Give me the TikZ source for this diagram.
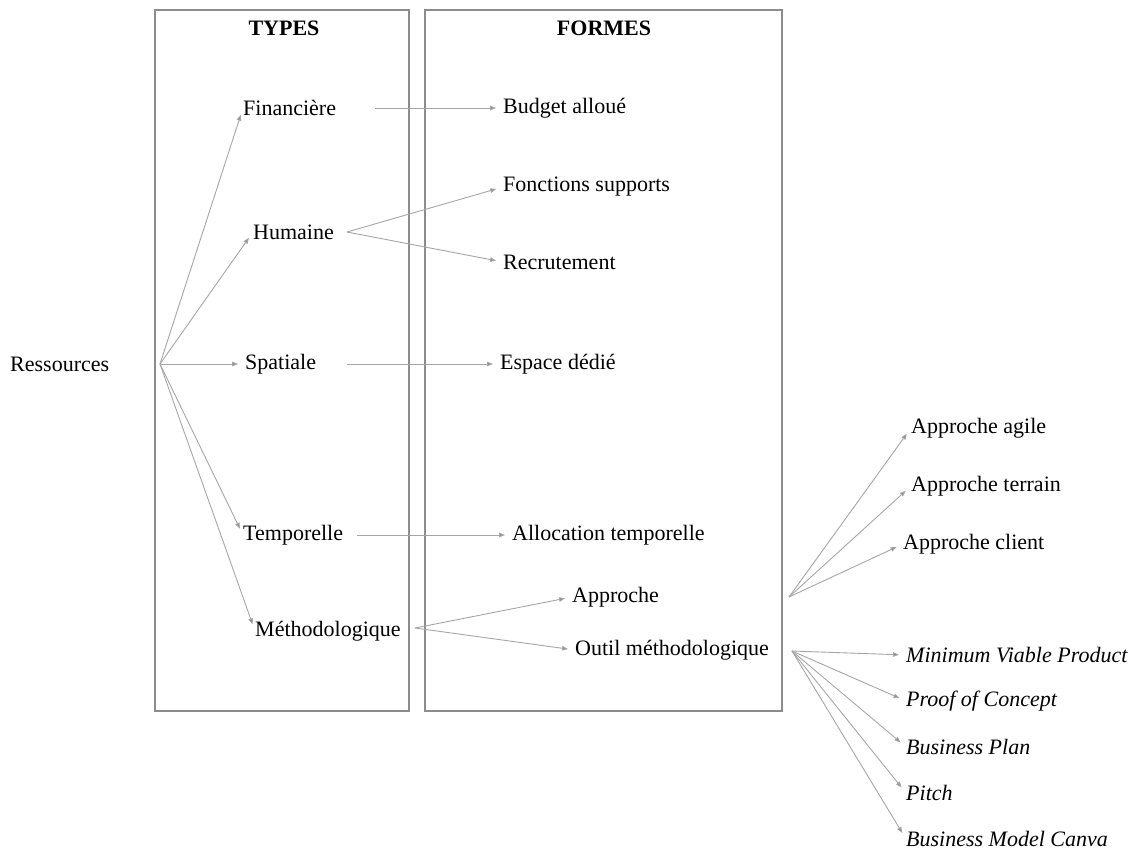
\documentclass[tikz,border=0pt]{standalone}
\usepackage{fontspec}
\setmainfont{Liberation Serif}
\usepackage{xcolor}
\usetikzlibrary{arrows.meta,positioning}

\definecolor{boxgray}{HTML}{8C8C8C}
\definecolor{linkgray}{HTML}{A6A6A6}

\begin{document}
\begin{tikzpicture}[x=1pt,y=-1pt,font=\fontsize{22}{26}\selectfont,
    lbl/.style={anchor=west,inner sep=0pt},
    col/.style={draw=boxgray,line width=1.1pt},
    link/.style={draw=linkgray,line width=0.9pt,shorten >=7pt,
      -{Triangle[length=6pt,width=4.5pt,fill=gray!90]}}]
  \useasboundingbox (0,0) rectangle (1133,852);

  % the two columns
  \draw[col] (155,10) rectangle (409,711);
  \draw[col] (425,10) rectangle (782,711);
  \node[inner sep=0pt] (types) at (284,28) {\textbf{TYPES}};
  \node[inner sep=0pt] (formes) at (604,28) {\textbf{FORMES}};

  \node[lbl] (ress) at (10,364) {Ressources};

  % types
  \node[lbl] (fin) at (243,108) {Financière};
  \node[lbl] (hum) at (253,232) {Humaine};
  \node[lbl] (spa) at (245,364) {Spatiale};
  \node[lbl] (tem) at (243,535) {Temporelle};
  \node[lbl] (met) at (255,631) {Méthodologique};

  % formes
  \node[lbl] (bud) at (503,108) {Budget alloué};
  \node[lbl] (fon) at (503,187) {Fonctions supports};
  \node[lbl] (rec) at (503,262) {Recrutement};
  \node[lbl] (esp) at (500,364) {Espace dédié};
  \node[lbl] (allo) at (512,535) {Allocation temporelle};
  \node[lbl] (app) at (572,597) {Approche};
  \node[lbl] (outil) at (575,650) {Outil méthodologique};

  % approches
  \node[lbl] (agi) at (911,428) {Approche agile};
  \node[lbl] (ter) at (911,486) {Approche terrain};
  \node[lbl] (cli) at (903,544) {Approche client};

  % outils
  \node[lbl] (mvp) at (906,655) {\itshape Minimum Viable Product};
  \node[lbl] (poc) at (906,701) {\itshape Proof of Concept};
  \node[lbl] (bp) at (906,747) {\itshape Business Plan};
  \node[lbl] (pit) at (906,793) {\itshape Pitch};
  \node[lbl] (bmc) at (906,839) {\itshape Business Model Canva};

  % start points of the links
  \coordinate (ress-out) at (160,364);
  \coordinate (fin-out) at (375,108);
  \coordinate (hum-out) at (347,232);
  \coordinate (spa-out) at (347,364);
  \coordinate (tem-out) at (357,535);
  \coordinate (met-out) at (415,628);
  \coordinate (app-out) at (789,597);
  \coordinate (outil-out) at (792,651);

  \foreach \t in {fin,hum,spa,tem,met}
    \draw[link] (ress-out) -- (\t.west);
  \draw[link] (fin-out) -- (bud.west);
  \draw[link] (hum-out) -- (fon.west);
  \draw[link] (hum-out) -- (rec.west);
  \draw[link] (spa-out) -- (esp.west);
  \draw[link] (tem-out) -- (allo.west);
  \draw[link] (met-out) -- (app.west);
  \draw[link] (met-out) -- (outil.west);
  \foreach \t in {agi,ter,cli}
    \draw[link] (app-out) -- (\t.west);
  \foreach \t in {mvp,poc,bp,pit,bmc}
    \draw[link] (outil-out) -- (\t.west);
\end{tikzpicture}
\end{document}
